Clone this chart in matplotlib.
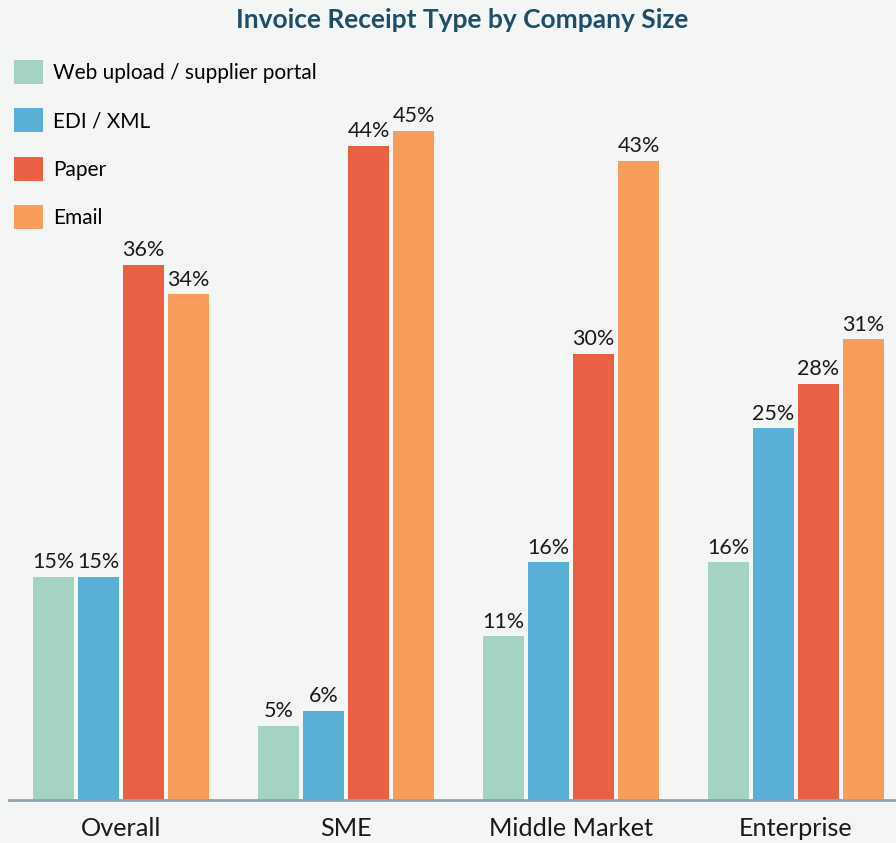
import matplotlib
matplotlib.use("Agg")
import matplotlib.pyplot as plt
from matplotlib.patches import Patch
import numpy as np

categories = ["Overall", "SME", "Middle Market", "Enterprise"]
series_names = ["Web upload / supplier portal", "EDI / XML", "Paper", "Email"]
web = [15, 5, 11, 16]
edi = [15, 6, 16, 25]
paper = [36, 44, 30, 28]
email = [34, 45, 43, 31]
colors = ["#a5d2c1", "#5aafd4", "#e85f43", "#f79d5b"]

W, H = 896, 843
bg = "#f4f6f5"
plt.rcParams['font.family'] = ['Lato', 'DejaVu Sans']
fig = plt.figure(figsize=(W / 100, H / 100), dpi=100, facecolor=bg)
ax = fig.add_axes([9 / W, (H - 800) / H, 887 / W, 760 / H], facecolor=bg)

x = np.arange(len(categories))
bw = 41 / 225
offsets = [-0.3, -0.1, 0.1, 0.3]
for vals, off, c in zip([web, edi, paper, email], offsets, colors):
    bars = ax.bar(x + off, vals, width=bw, color=c, zorder=2)
    for b, v in zip(bars, vals):
        ax.text(b.get_x() + b.get_width() / 2, v + 0.3, f"{v}%", ha="center", va="bottom",
                fontsize=15.5, color="#1a1a1a")

ax.set_xlim(-112 / 225, 775 / 225)
ax.set_ylim(0, 760 / 14.87)
for s in ["top", "right", "left"]:
    ax.spines[s].set_visible(False)
ax.spines["bottom"].set_color("#8fa3b0")
ax.spines["bottom"].set_linewidth(2)
ax.set_yticks([])
ax.set_xticks(x)
ax.set_xticklabels(categories, fontsize=18.2, color="#1a1a1a")
ax.tick_params(axis="x", length=0, pad=12)

fig.text(462 / W, 1 - 20 / H, "Invoice Receipt Type by Company Size", ha="center", va="center",
         fontsize=19, fontweight="bold", color="#1f4e6b")

handles = [Patch(facecolor=c, edgecolor="none") for c in colors]
fs = 15
fpx = fs * 100 / 72
fig.legend(handles, series_names, loc="upper left", bbox_to_anchor=(14 / W, 1 - 60 / H),
           frameon=False, fontsize=fs, handlelength=29 / fpx, handleheight=29 / fpx,
           handletextpad=10 / fpx, labelspacing=24.5 / fpx, borderpad=0, borderaxespad=0)

fig.savefig("out.png", dpi=100, facecolor=bg)
